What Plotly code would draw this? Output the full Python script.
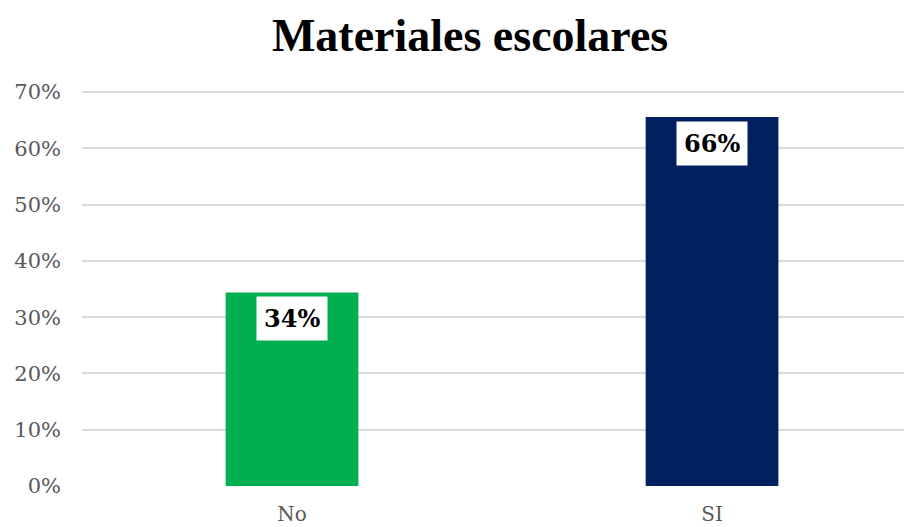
import plotly.graph_objects as go

categories = ["No", "SI"]
values = [34.4, 65.6]
labels = ["34%", "66%"]
colors = ["#00B050", "#002060"]
yticks = [0, 10, 20, 30, 40, 50, 60, 70]
yticklabels = ["0%", "10%", "20%", "30%", "40%", "50%", "60%", "70%"]

fig = go.Figure()
fig.add_trace(go.Bar(x=categories, y=values, marker=dict(color=colors, line=dict(width=0)),
                     width=0.316, hoverinfo="skip"))

for c, v, t in zip(categories, values, labels):
    fig.add_annotation(x=c, y=v, text="<b>%s</b>" % t, showarrow=False, yanchor="top",
                       yshift=-4, bgcolor="white", borderpad=7,
                       font=dict(family="DejaVu Serif", size=24, color="black"))

fig.update_layout(
    width=904, height=527,
    margin=dict(l=82, r=0, t=91, b=41, autoexpand=False),
    paper_bgcolor="white", plot_bgcolor="white",
    title=dict(text="<b>Materiales escolares</b>", x=0.52, xanchor="center", y=0.965, yanchor="top",
               font=dict(family="Liberation Serif", size=46, color="black")),
    showlegend=False,
    xaxis=dict(range=[-0.5, 1.457], showgrid=False, zeroline=False, showline=False,
               automargin=False, ticklabelstandoff=14,
               tickfont=dict(family="DejaVu Serif", size=20, color="#595959"), ticks=""),
    yaxis=dict(range=[0, 70.2], tickvals=yticks, ticktext=yticklabels, showgrid=True,
               gridcolor="#D9D9D9", gridwidth=2, zeroline=False, showline=False,
               automargin=False, ticklabelstandoff=20,
               tickfont=dict(family="DejaVu Serif", size=21, color="#595959"), ticks=""),
)
fig.write_html("out.html", config={"displayModeBar": False},
               post_script="document.body.style.margin='0px';document.body.style.overflow='hidden';")
